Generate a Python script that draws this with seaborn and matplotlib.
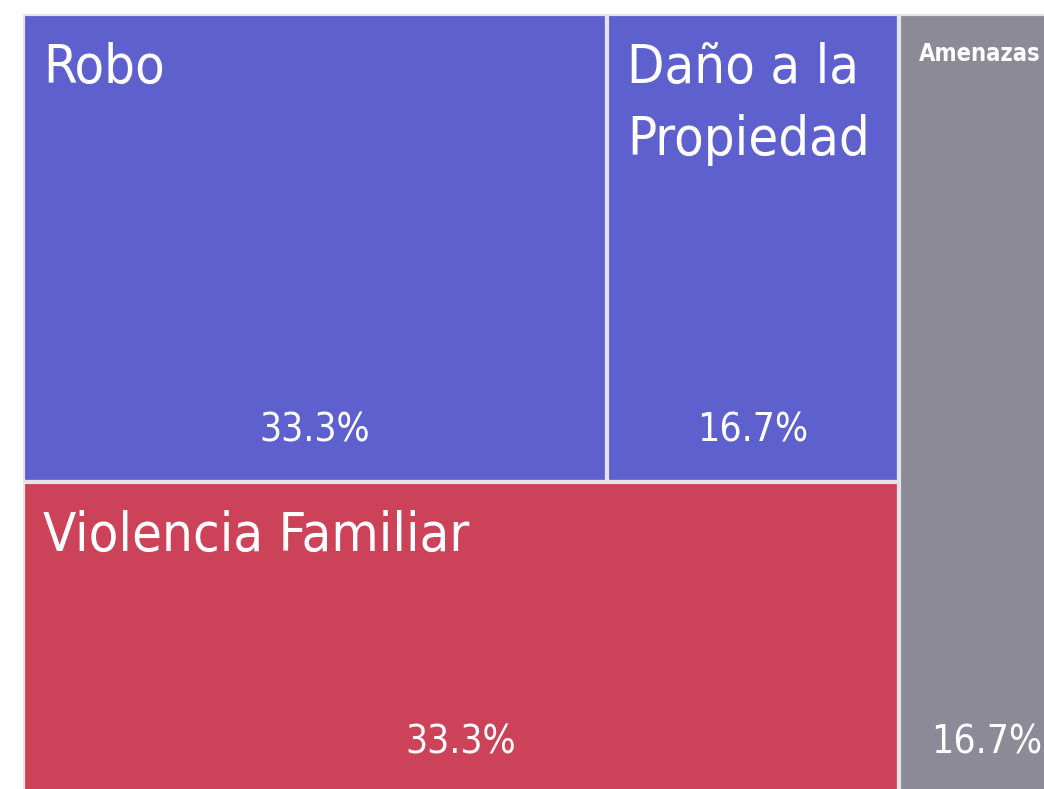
import matplotlib
matplotlib.use("Agg")
import matplotlib.pyplot as plt
import seaborn as sns
from matplotlib.patches import Rectangle
from matplotlib import font_manager

# =============================================================================
# DATA
# =============================================================================
categories = ["Robo", "Daño a la\nPropiedad", "Violencia Familiar", "Amenazas"]
counts = [2, 1, 2, 1]
colors = ["#5E60CE", "#5E60CE", "#CC4258", "#8C8A96"]
label_sizes = [39, 39, 39, 17]

sns.set_theme(style="white")
# pick a condensed face if there is one
narrow = [f for f in font_manager.fontManager.ttflist
          if ("Condensed" in f.fname or "Narrow" in f.fname) and f.style == "normal"]
narrow_reg = [f for f in narrow if f.weight in (400, "normal", "regular")]
pick = (narrow_reg or narrow)
if pick:
    family = pick[0].name
    stretch = pick[0].stretch
else:
    family, stretch = "DejaVu Sans", "normal"
plt.rcParams["font.family"] = [family, "DejaVu Sans"]

total = sum(counts)
pcts = [c / total * 100 for c in counts]

# Layout: last category is a column on the right, the rest split into
# a top row (first two) and a bottom row (third), all sized by value.
W, H = 1.0, 1.0
col_w = W * counts[3] / total
left_w = W - col_w
top_w = counts[0] + counts[1]
top_h = H * top_w / (total - counts[3])
rects = [
    (0, 0, left_w * counts[0] / top_w, top_h),
    (left_w * counts[0] / top_w, 0, left_w * counts[1] / top_w, top_h),
    (0, top_h, left_w, H - top_h),
    (left_w, 0, col_w, H),
]

fig = plt.figure(figsize=(10.44, 7.89), dpi=100)
fig_w, fig_h = 1044, 789
x0, y0, ax_w, ax_h = 23, 14, 1051, 780
ax = fig.add_axes([x0 / fig_w, 1 - (y0 + ax_h) / fig_h, ax_w / fig_w, ax_h / fig_h])
ax.set_xlim(0, W)
ax.set_ylim(H, 0)
ax.axis("off")

for (x, y, w, h), name, pct, col, fs in zip(rects, categories, pcts, colors, label_sizes):
    ax.add_patch(Rectangle((x, y), w, h, facecolor=col, edgecolor="#E4E4E8", linewidth=3))
    ax.text(x + 20 / ax_w, y + 28 / ax_h, name, ha="left", va="top", color="white",
            fontsize=fs, linespacing=1.5, fontstretch=stretch,
            fontweight="bold" if fs < 20 else "normal")
    ax.text(x + w / 2, y + h - 32 / ax_h, f"{pct:.1f}%", ha="center", va="bottom",
            color="white", fontsize=28, fontstretch=stretch)

fig.savefig("out.png", dpi=100)
